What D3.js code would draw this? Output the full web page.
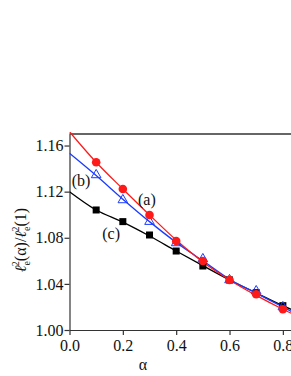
<!DOCTYPE html>
<html>
<head>
<meta charset="utf-8">
<script src="https://cdn.jsdelivr.net/npm/d3@7"></script>
<style>
body { margin: 0; background: #fff; }
svg { display: block; }
svg text { font-family: "Liberation Serif", "Times New Roman", "DejaVu Serif", serif; }
</style>
</head>
<body>
<div id="chart"></div>
<script>
// data
const alphas = [0.1, 0.2, 0.3, 0.4, 0.5, 0.6, 0.7, 0.8];
const seriesA = [1.1455, 1.1223, 1.0998, 1.0772, 1.0599, 1.0434, 1.0310, 1.0180];
const seriesB = [1.1345, 1.1128, 1.0940, 1.0755, 1.0616, 1.0434, 1.0338, 1.0200];
const seriesC = [1.1041, 1.0940, 1.0824, 1.0685, 1.0555, 1.0434, 1.0324, 1.0211];
// fitted curves: start value at alpha=0 and end value at the right edge
const fitX = [0, 0.1, 0.2, 0.3, 0.4, 0.5, 0.6, 0.7, 0.8, 0.85];
const fitA = [1.172, 1.1455, 1.1223, 1.0998, 1.0780, 1.0590, 1.0434, 1.0300, 1.0180, 1.0125];
const fitB = [1.1533, 1.1340, 1.1135, 1.0940, 1.0760, 1.0600, 1.0440, 1.0320, 1.0200, 1.0140];
const fitC = [1.120, 1.1041, 1.0935, 1.0815, 1.0685, 1.0558, 1.0434, 1.0322, 1.0211, 1.0160];
const xTicks = [0.0, 0.2, 0.4, 0.6, 0.8];
const yTicks = [1.00, 1.04, 1.08, 1.12, 1.16];

const width = 291, height = 376;
const x = d3.scaleLinear().domain([0, 0.85]).range([69.5, 296.2]);
const y = d3.scaleLinear().domain([1.0, 1.17]).range([330, 134]);

const svg = d3.select("#chart").append("svg")
    .attr("width", width).attr("height", height);

const axisColor = "#333";
const serif = "Liberation Serif, Times New Roman, serif";

// top frame line
svg.append("line")
    .attr("x1", x(0)).attr("x2", width)
    .attr("y1", y(1.17)).attr("y2", y(1.17))
    .attr("stroke", axisColor).attr("stroke-width", 1.3);

// x axis with minor ticks
const gx = svg.append("g").attr("transform", `translate(0,${y(1.0)})`);
gx.call(d3.axisBottom(x).tickValues(d3.range(0, 0.86, 0.1)).tickSize(3).tickFormat(""))
    .call(g => g.select(".domain").remove());
gx.call(d3.axisBottom(x).tickValues(xTicks).tickSize(5).tickSizeOuter(0).tickFormat(d3.format(".1f")))
    .call(g => g.selectAll("text").attr("font-size", 16).attr("font-family", serif).attr("fill", "#111").attr("dy", "0.8em"));
gx.attr("font-family", serif);
gx.selectAll("line,path").attr("stroke", axisColor).attr("stroke-width", 1.2);

// y axis with minor ticks
const gy = svg.append("g").attr("transform", `translate(${x(0)},0)`);
gy.call(d3.axisLeft(y).tickValues(d3.range(1.0, 1.17, 0.02)).tickSize(3).tickFormat(""))
    .call(g => g.select(".domain").remove());
gy.call(d3.axisLeft(y).tickValues(yTicks).tickSize(5).tickSizeOuter(0).tickFormat(d3.format(".2f")))
    .call(g => g.selectAll("text").attr("font-size", 16).attr("font-family", serif).attr("fill", "#111").attr("x", -6));
gy.attr("font-family", serif);
gy.selectAll("line,path").attr("stroke", axisColor).attr("stroke-width", 1.2);

// clip to plot area
svg.append("clipPath").attr("id", "clip")
    .append("rect").attr("x", x(0)).attr("y", y(1.17) - 2)
    .attr("width", width - x(0)).attr("height", y(1.0) - y(1.17) + 2);

const line = d3.line().x((d, i) => x(fitX[i])).y(d => y(d)).curve(d3.curveMonotoneX);

const fits = [
    { vals: fitC, color: "#000" },
    { vals: fitB, color: "#1a3cff" },
    { vals: fitA, color: "#ff1a1a" }
];
const plot = svg.append("g").attr("clip-path", "url(#clip)");
fits.forEach(f => {
    plot.append("path").attr("d", line(f.vals))
        .attr("fill", "none").attr("stroke", f.color).attr("stroke-width", 1.3);
});

// markers
svg.append("g").selectAll("rect").data(seriesC).join("rect")
    .attr("x", (d, i) => x(alphas[i]) - 3.5).attr("y", d => y(d) - 3.5)
    .attr("width", 7).attr("height", 7).attr("fill", "#000");

svg.append("g").selectAll("path").data(seriesB).join("path")
    .attr("transform", (d, i) => `translate(${x(alphas[i])},${y(d)})`)
    .attr("d", d3.symbol(d3.symbolTriangle, 40))
    .attr("fill", "none").attr("stroke", "#1a3cff").attr("stroke-width", 1);

svg.append("g").selectAll("circle").data(seriesA).join("circle")
    .attr("cx", (d, i) => x(alphas[i])).attr("cy", d => y(d))
    .attr("r", 4.3).attr("fill", "#ff1a1a");

// curve labels
const labels = [
    { t: "(a)", a: 0.29, v: 1.1137 },
    { t: "(b)", a: 0.043, v: 1.130 },
    { t: "(c)", a: 0.156, v: 1.084 }
];
svg.append("g").selectAll("text").data(labels).join("text")
    .attr("x", d => x(d.a)).attr("y", d => y(d.v))
    .attr("text-anchor", "middle").attr("dy", "0.35em")
    .attr("font-size", 16).attr("fill", "#111")
    .text(d => d.t);

// axis titles
svg.append("text").attr("x", x(0.275)).attr("y", 370)
    .attr("text-anchor", "middle").attr("font-size", 16).attr("fill", "#111")
    .text("α");

const yt = svg.append("text")
    .attr("transform", `translate(26,${y(1.078)}) rotate(-90)`)
    .attr("text-anchor", "middle").attr("font-size", 16).attr("fill", "#111");
yt.append("tspan").attr("font-style", "italic").text("ℓ");
yt.append("tspan").attr("font-size", 10).attr("dy", 4).text("e");
yt.append("tspan").attr("font-size", 10).attr("dy", -11).attr("dx", -5).text("2");
yt.append("tspan").attr("dy", 7).text("(α)/");
yt.append("tspan").attr("font-style", "italic").text("ℓ");
yt.append("tspan").attr("font-size", 10).attr("dy", 4).text("e");
yt.append("tspan").attr("font-size", 10).attr("dy", -11).attr("dx", -5).text("2");
yt.append("tspan").attr("dy", 7).text("(1)");
</script>
</body>
</html>
